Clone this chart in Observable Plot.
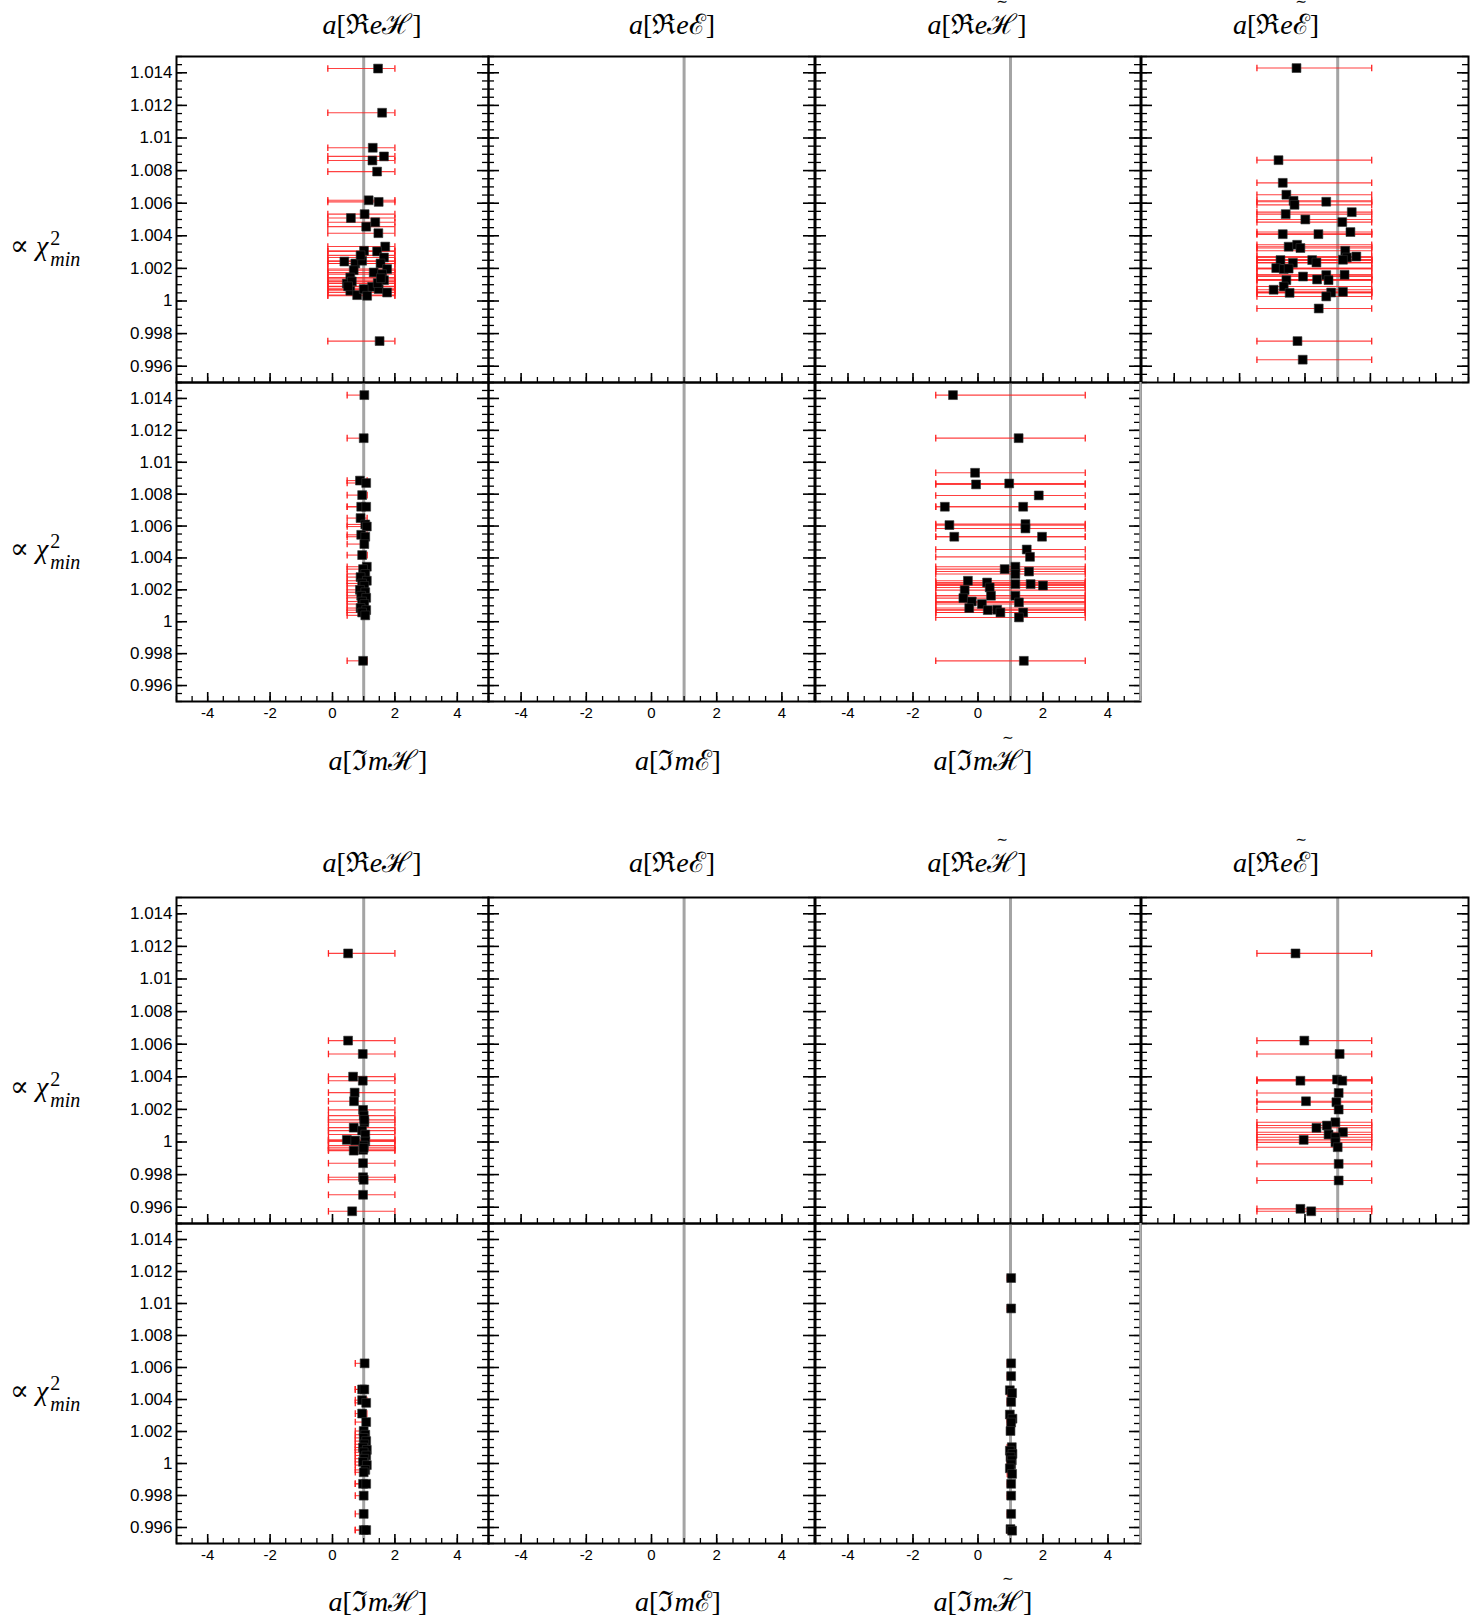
<!DOCTYPE html>
<html><head><meta charset="utf-8">
<script src="https://cdn.jsdelivr.net/npm/d3@7"></script>
<script src="https://cdn.jsdelivr.net/npm/@observablehq/plot@0.6"></script>
<style>
body{margin:0;background:#fff}
#root{position:relative;width:1479px;height:1622px;overflow:hidden;background:#fff}
.panel{position:absolute}
.t{position:absolute;font-family:"Liberation Serif","DejaVu Serif",serif;font-size:28px;transform:translate(-50%,-50%);white-space:nowrap;color:#000;line-height:2}
.tw{text-emphasis-style:"∼";text-emphasis-position:over right;-webkit-text-emphasis-style:"∼";-webkit-text-emphasis-position:over right}
.yt{position:absolute;font-family:"Liberation Serif","DejaVu Serif",serif;font-size:28px;transform:translateY(-50%);white-space:nowrap;color:#000;line-height:1}
.ss{display:inline-block;vertical-align:middle;font-size:20px;line-height:21px;margin-left:2px}
.ss span{display:block}
</style></head><body><div id="root"></div>
<script>
// ---------------- data ----------------
const colTitlesTop = ["a[ℜeℋ]", "a[ℜeℰ]", "a[ℜeℋ\u0303]", "a[ℜeℰ\u0303]"];
const colTitlesBottom = ["a[ℑmℋ]", "a[ℑmℰ]", "a[ℑmℋ\u0303]"];
const yTickLabels = [0.996, 0.998, 1, 1.002, 1.004, 1.006, 1.008, 1.01, 1.012, 1.014];
const xTickLabels = [-4, -2, 0, 2, 4];
const xDomain = [-5, 5];
const yDomain = [0.995, 1.015];
const refLine = [1];

// block 1, row 1, col 1  a[ReH]
const b1ReH_x = [1.46,1.59,1.29,1.65,1.28,1.43,1.16,1.48,1.03,0.59,1.37,1.08,1.47,1.69,1.01,1.43,1.65,0.38,0.73,0.95,1.54,1.75,0.68,1.32,1.59,0.57,1.65,0.46,1.27,1.48,1.75,0.57,0.79,1.00,1.11,1.51,0.90,0.62,1.45,1.55,0.50];
const b1ReH_y = [1.01426,1.01155,1.00940,1.00887,1.00862,1.00794,1.00618,1.00608,1.00533,1.00509,1.00483,1.00456,1.00416,1.00334,1.00308,1.00304,1.00267,1.00242,1.00230,1.00247,1.00230,1.00196,1.00189,1.00175,1.00165,1.00144,1.00128,1.00107,1.00087,1.00073,1.00052,1.00063,1.00036,1.00073,1.00032,0.99754,1.00280,1.00120,1.00110,1.00140,1.00090];
const b1ReH_bar = [-0.15, 2.0];

// block 1, row 1, col 4  a[Re E~]
const b1ReEt_x = [-0.26,-0.81,-0.68,-0.57,-0.35,-0.32,0.65,-0.59,1.43,0.01,1.14,-0.68,0.41,1.39,-0.50,-0.24,-0.14,1.23,1.28,1.57,1.16,-0.75,-0.37,0.22,0.35,-0.88,-0.65,-0.50,1.21,-0.06,-0.57,0.37,0.65,0.72,-0.65,-0.96,-0.47,0.80,1.16,0.65,0.42,-0.23,-0.07];
const b1ReEt_y = [1.01429,1.00864,1.00725,1.00652,1.00615,1.00590,1.00609,1.00533,1.00545,1.00500,1.00484,1.00410,1.00410,1.00423,1.00333,1.00345,1.00325,1.00308,1.00267,1.00273,1.00253,1.00251,1.00234,1.00251,1.00236,1.00202,1.00196,1.00199,1.00161,1.00150,1.00128,1.00132,1.00159,1.00128,1.00089,1.00069,1.00050,1.00052,1.00056,1.00028,0.99954,0.99754,0.99640];
const b1ReEt_bar = [-1.47, 2.04];

// block 1, row 2, col 1  a[ImH]
const b1ImH_x = [1.02,1.00,0.88,1.08,0.95,0.92,1.08,0.90,1.05,1.10,0.92,1.05,1.02,0.95,1.10,0.98,1.05,0.90,1.10,0.95,1.02,0.88,1.05,0.92,1.08,0.95,1.02,0.90,1.08,0.95,1.05,0.98];
const b1ImH_y = [1.01421,1.01151,1.00885,1.00870,1.00794,1.00721,1.00721,1.00650,1.00610,1.00597,1.00545,1.00533,1.00487,1.00418,1.00345,1.00330,1.00300,1.00280,1.00257,1.00240,1.00225,1.00200,1.00185,1.00163,1.00150,1.00127,1.00111,1.00086,1.00073,1.00058,1.00040,0.99755];
const b1ImH_bar = [0.47, 1.11];

// block 1, row 2, col 3  a[Im H~]
const b1ImHt_x = [-0.77,1.25,-0.09,-0.06,0.96,1.87,-1.02,1.39,-0.88,1.46,1.46,-0.73,1.97,1.50,1.60,0.82,1.15,1.15,1.57,-0.31,0.28,1.15,1.62,2.00,-0.41,0.36,0.40,-0.45,1.15,1.26,-0.19,0.12,-0.27,0.30,0.59,0.69,1.39,1.26,1.41];
const b1ImHt_y = [1.01421,1.01151,1.00934,1.00861,1.00867,1.00792,1.00721,1.00721,1.00606,1.00612,1.00585,1.00533,1.00533,1.00453,1.00407,1.00330,1.00345,1.00299,1.00315,1.00257,1.00246,1.00236,1.00236,1.00227,1.00198,1.00215,1.00163,1.00148,1.00163,1.00121,1.00127,1.00111,1.00086,1.00073,1.00075,1.00058,1.00058,1.00027,0.99755];
const b1ImHt_bar = [-1.3, 3.3];

// block 2, row 1, col 1  a[ReH]
const b2ReH_x = [0.50,0.50,0.97,0.66,0.97,0.71,0.69,0.98,1.00,1.02,0.68,0.95,1.05,0.46,0.73,1.05,1.00,0.68,0.98,0.98,0.98,0.98,0.63,1.02,1.00,1.00];
const b2ReH_y = [1.01157,1.00622,1.00540,1.00401,1.00376,1.00303,1.00250,1.00197,1.00162,1.00121,1.00088,1.00070,1.00046,1.00013,1.00009,1.00003,0.99978,0.99947,0.99952,0.99870,0.99784,0.99676,0.99575,1.00136,0.99964,0.99768];
const b2ReH_bar = [-0.13, 2.0];

// block 2, row 1, col 4  a[Re E~]
const b2ReEt_x = [-0.29,-0.02,1.06,-0.14,0.98,1.14,1.03,0.03,0.96,1.03,0.93,0.67,0.35,1.16,0.72,0.93,-0.04,0.93,1.00,1.03,1.03,-0.14,0.19];
const b2ReEt_y = [1.01157,1.00622,1.00540,1.00376,1.00383,1.00376,1.00301,1.00250,1.00244,1.00199,1.00121,1.00101,1.00087,1.00060,1.00046,1.00029,1.00013,0.99998,0.99968,0.99866,0.99764,0.99590,0.99575];
const b2ReEt_bar = [-1.47, 2.04];

// block 2, row 2, col 1  a[ImH]
const b2ImH_x = [1.03,0.95,1.02,0.95,1.08,0.95,1.08,1.00,1.05,1.00,1.08,1.02,0.98,1.10,1.00,1.08,1.02,0.98,1.10,1.05,1.00,0.98,1.08,1.00,1.00,1.00,1.08];
const b2ImH_y = [1.00626,1.00463,1.00463,1.00396,1.00379,1.00312,1.00259,1.00203,1.00180,1.00160,1.00140,1.00120,1.00100,1.00085,1.00070,1.00050,1.00030,1.00010,0.99990,0.99960,0.99945,0.99873,0.99873,0.99799,0.99685,0.99584,0.99584];
const b2ImH_bar = [0.73, 1.10];

// block 2, row 2, col 3  a[Im H~]
const b2ImHt_x = [1.02,1.02,1.02,1.02,0.98,1.05,1.02,0.98,1.06,1.02,1.00,1.04,0.98,1.06,1.00,1.04,1.02,0.98,1.05,1.02,1.02,1.02,1.00,1.05];
const b2ImHt_y = [1.01159,1.00969,1.00626,1.00546,1.00458,1.00440,1.00385,1.00306,1.00280,1.00256,1.00203,1.00102,1.00080,1.00060,1.00040,1.00020,0.99995,0.99970,0.99935,0.99873,0.99799,0.99685,0.99590,0.99580];
const b2ImHt_bar = [0.90, 1.06];

// ---------------- layout ----------------
const cols = [[176, 488], [488, 814], [815, 1140], [1141, 1468]];
const blocks = [
  {rows: [[56, 382], [382, 701]], titleTop: 25, titleBottom: 761, yTitleY: [249, 552]},
  {rows: [[897, 1223], [1223, 1543]], titleTop: 863, titleBottom: 1602, yTitleY: [1090, 1394]}
];
const titleTopX = [372, 672, 977, 1276];
const titleBottomX = [378, 678, 983];

const root = document.getElementById("root");
const RED = "#ff2020";
const cap = {draw(ctx, size) { const h = Math.sqrt(size) * 0.62; ctx.moveTo(0, -h); ctx.lineTo(0, h); }};
const xMajor = xTickLabels;
const xMinor = d3.ticks(-5, 5, 20);
const yMajor = yTickLabels;
const yMinor = d3.ticks(0.995, 1.015, 40);

function points(xs, ys, bar) {
  return xs.map((x, i) => ({x, y: ys[i], lo: bar[0], hi: bar[1]}));
}

function panel({col, row, pts = [], yLabels = false, xLabels = false, grayRight = false}) {
  const [x0, x1] = cols[col];
  const [t0, t1] = row;
  const W = x1 - x0, H = t1 - t0;
  const mL = yLabels ? 62 : 3, mB = xLabels ? 34 : 3, mT = 3, mR = 3;
  const marks = [Plot.ruleX(refLine, {x: d => d, stroke: "#a4a4a4", strokeWidth: 3})];
  if (pts.length) {
    marks.push(
      Plot.ruleY(pts, {y: "y", x1: "lo", x2: "hi", stroke: RED, strokeWidth: 1.1, strokeOpacity: 0.85}),
      Plot.dot(pts, {x: "lo", y: "y", symbol: cap, r: 3, stroke: RED, strokeWidth: 1.3}),
      Plot.dot(pts, {x: "hi", y: "y", symbol: cap, r: 3, stroke: RED, strokeWidth: 1.3}),
      Plot.dot(pts, {x: "x", y: "y", symbol: "square", r: 5, fill: "#000", stroke: "#333", strokeWidth: 0.6})
    );
  }
  marks.push(
    Plot.tickX(xMinor, {x: d => d, stroke: "#000", strokeWidth: 1.3, insetTop: H - 5}),
    Plot.tickX(xMajor, {x: d => d, stroke: "#000", strokeWidth: 1.6, insetTop: H - 9}),
    Plot.tickY(yMinor, {y: d => d, stroke: "#000", strokeWidth: 1.3, insetRight: W - 6}),
    Plot.tickY(yMajor, {y: d => d, stroke: "#000", strokeWidth: 1.6, insetRight: W - 11}),
    Plot.tickY(yMinor, {y: d => d, stroke: "#000", strokeWidth: 1.3, insetLeft: W - 6}),
    Plot.tickY(yMajor, {y: d => d, stroke: "#000", strokeWidth: 1.6, insetLeft: W - 11}),
    Plot.frame({stroke: "#000", strokeWidth: 2})
  );
  if (grayRight) marks.push(Plot.ruleX(xDomain.slice(1), {x: d => d, stroke: "#b0b0b0", strokeWidth: 2.2}));
  if (yLabels) marks.push(Plot.axisY(yTickLabels, {label: null, tickSize: 0, tickPadding: 4, fontSize: 17, fill: "#000", tickFormat: d => String(d)}));
  if (xLabels) marks.push(Plot.axisX(xTickLabels, {label: null, tickSize: 0, tickPadding: 6, fontSize: 15, fill: "#000", tickFormat: d => String(d)}));
  const svg = Plot.plot({
    width: W + mL + mR, height: H + mT + mB,
    marginLeft: mL, marginRight: mR, marginTop: mT, marginBottom: mB,
    x: {domain: xDomain, axis: null},
    y: {domain: yDomain, axis: null},
    style: {fontFamily: '"Liberation Sans", Arial, sans-serif', fontSize: "16px", background: "transparent", overflow: "visible", maxWidth: "none", color: "#000"},
    marks
  });
  const div = document.createElement("div");
  div.className = "panel";
  div.style.left = (x0 - mL) + "px";
  div.style.top = (t0 - mT) + "px";
  div.appendChild(svg);
  root.appendChild(div);
}

function mathTitle(s) {
  const chars = Array.from(s);
  let out = "";
  for (let i = 0; i < chars.length; i++) {
    const c = chars[i];
    if (chars[i + 1] === "\u0303") { out += `<span class="tw">${c}</span>`; i++; continue; }
    if (c === "a" || c === "e" || c === "m") out += `<i>${c}</i>`;
    else out += c;
  }
  return out;
}
function addText(cls, html, x, y) {
  const d = document.createElement("div");
  d.className = cls; d.innerHTML = html;
  d.style.left = x + "px"; d.style.top = y + "px";
  root.appendChild(d);
  return d;
}
// keep every title of one row on the same baseline (the tilde mark enlarges its line box)
function alignRow(divs) {
  const ref = divs[0].querySelector("i").getBoundingClientRect().top;
  divs.slice(1).forEach(d => {
    const dy = d.querySelector("i").getBoundingClientRect().top - ref;
    if (Math.abs(dy) > 0.3) d.style.top = (parseFloat(d.style.top) - dy) + "px";
  });
}
const yTitleHtml = `∝ <i>χ</i><span class="ss"><span>2</span><span><i>min</i></span></span>`;

const blockData = [
  {top: [points(b1ReH_x, b1ReH_y, b1ReH_bar), [], [], points(b1ReEt_x, b1ReEt_y, b1ReEt_bar)],
   bottom: [points(b1ImH_x, b1ImH_y, b1ImH_bar), [], points(b1ImHt_x, b1ImHt_y, b1ImHt_bar)]},
  {top: [points(b2ReH_x, b2ReH_y, b2ReH_bar), [], [], points(b2ReEt_x, b2ReEt_y, b2ReEt_bar)],
   bottom: [points(b2ImH_x, b2ImH_y, b2ImH_bar), [], points(b2ImHt_x, b2ImHt_y, b2ImHt_bar)]}
];

blocks.forEach((b, bi) => {
  blockData[bi].top.forEach((pts, c) => panel({col: c, row: b.rows[0], pts, yLabels: c === 0}));
  blockData[bi].bottom.forEach((pts, c) => panel({col: c, row: b.rows[1], pts, yLabels: c === 0, xLabels: true, grayRight: c === 2}));
  alignRow(colTitlesTop.map((t, c) => addText("t", mathTitle(t), titleTopX[c], b.titleTop)));
  alignRow(colTitlesBottom.map((t, c) => addText("t", mathTitle(t), titleBottomX[c], b.titleBottom)));
  b.yTitleY.forEach(y => addText("yt", yTitleHtml, 10, y));
});
</script></body></html>
